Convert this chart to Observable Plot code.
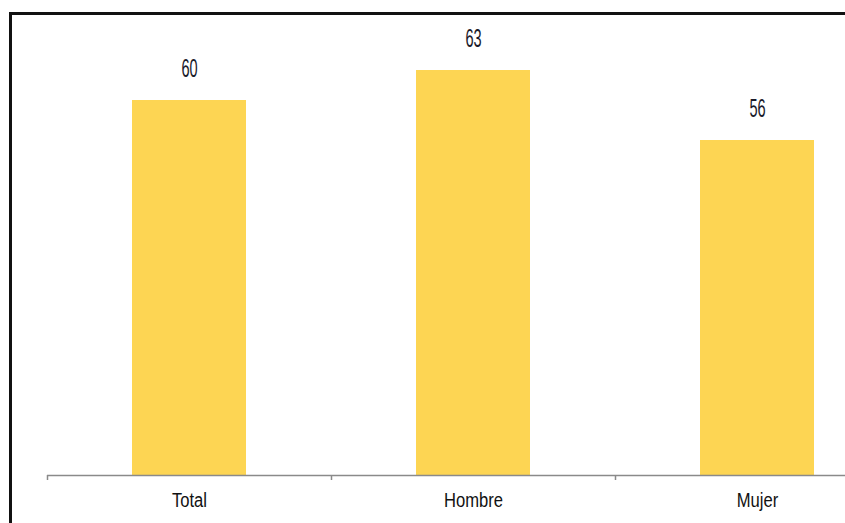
<!DOCTYPE html>
<html>
<head>
<meta charset="utf-8">
<script src="https://cdn.jsdelivr.net/npm/d3@7"></script>
<script src="https://cdn.jsdelivr.net/npm/@observablehq/plot@0.6"></script>
<style>
  html, body { margin: 0; padding: 0; background: #fff; }
  #wrap { position: relative; width: 845px; height: 523px; overflow: hidden; }
  #box {
    position: absolute; left: 9px; top: 12px; width: 900px; height: 600px;
    border-left: 3px solid #111; border-top: 3px solid #111; pointer-events: none;
  }
  #chart { position: absolute; left: 0; top: 0; }
</style>
</head>
<body>
<div id="wrap">
  <div id="chart"></div>
  <div id="box"></div>
</div>
<script>
// Categories and their percentages
const categories = ["Total", "Hombre", "Mujer"];
const values = [60, 63, 56];

// Value-axis extent (baseline of the bars and top of the plot)
const yMin = 22.5;
const yMax = 70;

const data = categories.map((c, i) => ({category: c, value: values[i]}));

const font = "'Liberation Sans', Arial, sans-serif";

const chart = Plot.plot({
  width: 845,
  height: 523,
  marginTop: 0,
  marginBottom: 48,
  marginLeft: 47,
  marginRight: 0,
  style: {fontFamily: font, background: "transparent", overflow: "hidden"},
  x: {domain: categories, range: [47, 899], paddingInner: 0.6, paddingOuter: 0.3, label: null},
  y: {domain: [yMin, yMax], axis: null},
  marks: [
    Plot.barY(data, {x: "category", y1: yMin, y2: "value", fill: "#FDD553"}),
    // baseline of the category axis
    Plot.ruleY([yMin], {stroke: "#8a8a8a", strokeWidth: 1.5}),
    // tick marks between categories
    Plot.ruleX(categories, {x: d => d, dx: -142, y1: yMin, y2: yMin - 0.5, stroke: "#8a8a8a", strokeWidth: 1.5}),
    Plot.axisX({tickSize: 0, tickPadding: 17, fontSize: 21, fill: "#111", label: null}),
    Plot.text(data, {x: "category", y: "value", text: d => String(d.value), dy: -32, fontSize: 26, fill: "#1a1a2a"})
  ]
});

// condensed lettering: narrow the value labels and the category labels
const condense = (selector, k) => chart.querySelectorAll(selector).forEach(t => {
  const tr = t.getAttribute("transform") || "";
  t.setAttribute("transform", tr + ` scale(${k},1)`);
});
condense('g[aria-label="text"] text', 0.56);
condense('g[aria-label="x-axis tick label"] text', 0.79);

document.getElementById("chart").appendChild(chart);
</script>
</body>
</html>
